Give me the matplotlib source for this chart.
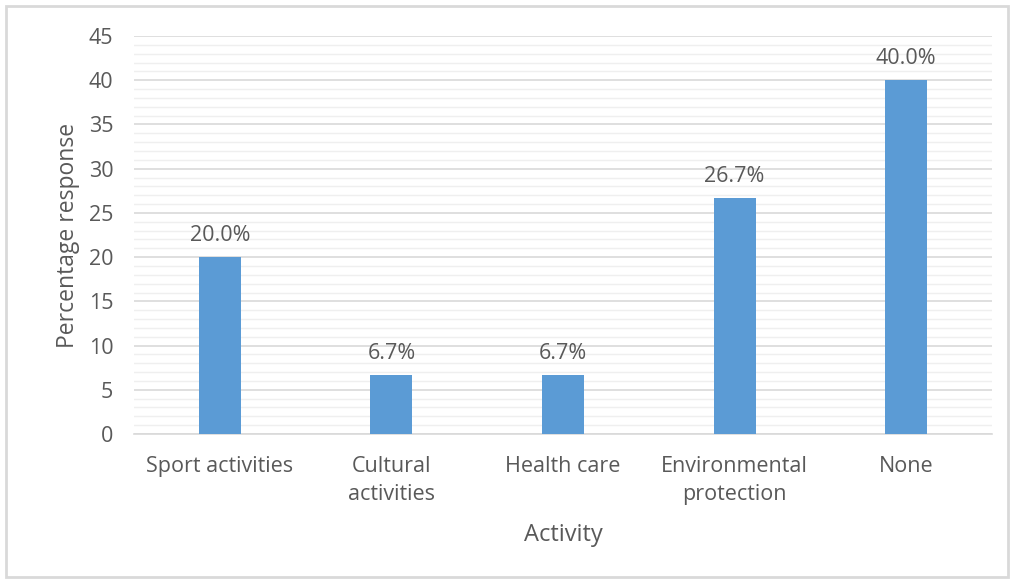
import matplotlib.pyplot as plt
from matplotlib.patches import Rectangle
from matplotlib.ticker import MultipleLocator

activities = ["Sport activities", "Cultural\nactivities", "Health care",
              "Environmental\nprotection", "None"]
percent = [20.0, 6.7, 6.7, 26.7, 40.0]
labels = ["20.0%", "6.7%", "6.7%", "26.7%", "40.0%"]

plt.rcParams['font.family'] = ['Open Sans', 'DejaVu Sans']
grey = '#595959'

fig = plt.figure(figsize=(10.1, 5.79), dpi=100)
ax = fig.add_axes([0.1327, 0.2504, 0.8495, 0.6874])

# chart border
fig.patches.append(Rectangle((0.006, 0.003), 0.992, 0.986, transform=fig.transFigure,
                             fill=False, edgecolor='#d9d9d9', linewidth=2))

x = range(len(activities))
bars = ax.bar(x, percent, width=0.245, color='#5b9bd5', zorder=3)
for b, t in zip(bars, labels):
    ax.annotate(t, (b.get_x() + b.get_width() / 2, b.get_height()),
                xytext=(0, 8), textcoords='offset points', ha='center', va='bottom',
                fontsize=15.5, color=grey)

ax.set_xlim(-0.5, 4.5)
ax.set_ylim(0, 45)
ax.yaxis.set_major_locator(MultipleLocator(5))
ax.yaxis.set_minor_locator(MultipleLocator(1))
ax.grid(axis='y', which='major', color='#d9d9d9', linewidth=1.2, zorder=0)
ax.grid(axis='y', which='minor', color='#efefef', linewidth=1, zorder=0)
ax.set_xticks(list(x))
ax.set_xticklabels(activities, fontsize=15.5, color=grey, linespacing=1.4)
ax.tick_params(axis='y', labelsize=15.5, colors=grey, length=0, pad=15)
ax.tick_params(axis='y', which='minor', length=0)
ax.tick_params(axis='x', length=0, pad=16)
for s in ['top', 'right', 'left']:
    ax.spines[s].set_visible(False)
ax.spines['bottom'].set_color('#d9d9d9')
ax.spines['bottom'].set_linewidth(1.2)

ax.set_ylabel("Percentage response", fontsize=16.5, color=grey, labelpad=6)
ax.set_xlabel("Activity", fontsize=17, color=grey, labelpad=13)

fig.savefig("out.png", dpi=100)
